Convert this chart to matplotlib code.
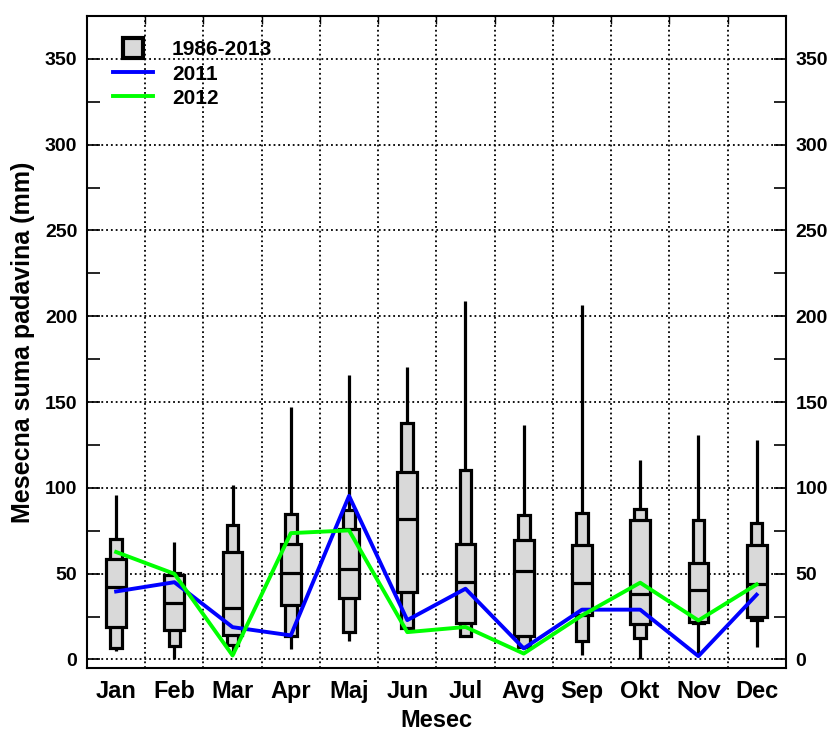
import numpy as np
import matplotlib
matplotlib.use('Agg')
import matplotlib.pyplot as plt
from matplotlib.lines import Line2D

plt.rcParams['font.family'] = ['Liberation Sans', 'DejaVu Sans']
plt.rcParams['font.weight'] = 'bold'

# mesecne sume padavina 1986-2013 (percentili) + 2011 i 2012
meseci = ['Jan', 'Feb', 'Mar', 'Apr', 'Maj', 'Jun', 'Jul', 'Avg', 'Sep', 'Okt', 'Nov', 'Dec']
p_min = [4.9, 0.4, 3.0, 6.2, 10.5, 17.5, 13.0, 5.8, 2.3, 0.4, 2.3, 7.2]
p10 = [6.6, 7.6, 8.2, 13.4, 15.9, 18.5, 13.5, 7.4, 10.5, 12.6, 21.0, 23.1]
p25 = [18.8, 16.9, 14.0, 32.0, 36.0, 39.2, 21.5, 13.5, 25.6, 20.8, 21.8, 25.0]
medijana = [42.2, 33.0, 30.1, 50.3, 52.7, 81.8, 45.0, 51.3, 44.7, 38.3, 40.6, 43.7]
p75 = [58.7, 49.0, 62.6, 67.4, 75.8, 109.0, 67.2, 69.8, 66.8, 81.0, 56.3, 66.8]
p90 = [70.3, 50.3, 78.5, 84.9, 86.9, 137.6, 110.6, 83.9, 85.3, 87.8, 81.4, 79.5]
p_max = [95.6, 68.4, 101.8, 147.0, 165.7, 170.3, 209.0, 136.7, 206.3, 116.4, 130.6, 127.7]
god2011 = [39.6, 45.0, 18.8, 14.0, 95.3, 22.9, 41.2, 6.4, 29.0, 29.0, 1.9, 37.7]
god2012 = [62.6, 49.9, 2.3, 73.6, 75.2, 15.9, 18.9, 3.4, 25.6, 44.7, 22.7, 43.7]

x = np.arange(1, 13)
siva = '#d9d9d9'
lw = 2.3

fig = plt.figure(figsize=(8.32, 7.31), dpi=100)
ax = fig.add_axes([0.1046, 0.0862, 0.8398, 0.8919])

# whiskeri min-max
ax.vlines(x, p_min, p_max, color='k', lw=lw, zorder=2)
# uska kutija 10-90
ax.bar(x, np.array(p90) - np.array(p10), bottom=p10, width=0.2,
       color=siva, edgecolor='k', linewidth=lw, zorder=3)
# siroka kutija 25-75
ax.bar(x, np.array(p75) - np.array(p25), bottom=p25, width=0.34,
       color=siva, edgecolor='k', linewidth=lw, zorder=4)
ax.hlines(medijana, x - 0.17, x + 0.17, color='k', lw=lw, zorder=5)

ax.plot(x, god2011, color='#0000ff', lw=2.8, zorder=6)
ax.plot(x, god2012, color='#00ff00', lw=2.8, zorder=7)

ax.set_xlim(0.5, 12.5)
ax.set_ylim(-5, 375)
ax.set_xticks(x)
ax.set_xticklabels(meseci, fontsize=17, fontweight='bold')
ax.set_xticks(np.arange(1.5, 12.5, 1), minor=True)
ax.set_yticks(np.arange(0, 351, 50))
ax.set_yticks(np.arange(25, 351, 50), minor=True)
ax.tick_params(axis='x', which='major', length=0, pad=9)
ax.tick_params(axis='x', which='minor', direction='in', length=6, top=True, bottom=False, width=1)
ax.tick_params(axis='y', which='both', direction='in', length=9, width=1.2,
               left=True, right=True, labelleft=True, labelright=True,
               labelsize=14, pad=7)
for lab in ax.get_yticklabels():
    lab.set_fontweight('bold')
ax.grid(True, which='major', axis='y', color='k', linestyle=':', lw=1.3)
ax.grid(True, which='minor', axis='x', color='k', linestyle=':', lw=1.3)
for s in ax.spines.values():
    s.set_linewidth(1.5)

ax.set_xlabel('Mesec', fontsize=17, fontweight='bold', labelpad=4)
ax.set_ylabel('Mesecna suma padavina (mm)', fontsize=18, fontweight='bold', labelpad=7)

ruke = [Line2D([], [], marker='s', markersize=15, markerfacecolor=siva,
               markeredgecolor='k', markeredgewidth=3, linestyle='none'),
        Line2D([], [], color='#0000ff', lw=2.8),
        Line2D([], [], color='#00ff00', lw=2.8)]
leg = ax.legend(ruke, ['1986-2013', '2011', '2012'], loc='upper left',
                frameon=False, fontsize=15, handlelength=1.9,
                labelspacing=0.25, borderaxespad=0.3, handletextpad=0.9,
                bbox_to_anchor=(0.017, 0.985))
for t in leg.get_texts():
    t.set_fontweight('bold')

fig.savefig('out.png', dpi=100)
